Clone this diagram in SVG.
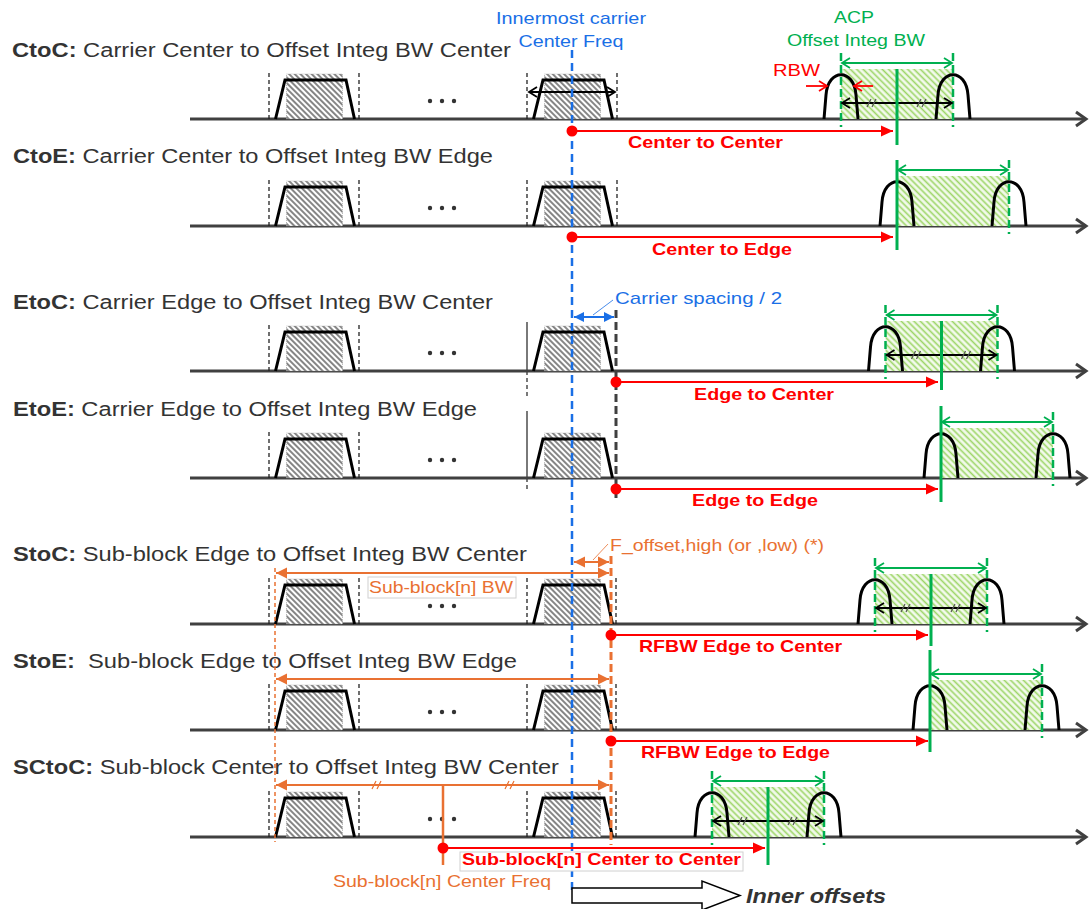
<svg xmlns="http://www.w3.org/2000/svg" width="1092" height="909" viewBox="0 0 1092 909">
<style>
text{font-family:"Liberation Sans",Arial,sans-serif}
.rl{font-size:20px;fill:#333}
.b{font-weight:bold}
.ax{stroke:#404040;stroke-width:3;fill:none;marker-end:url(#mAx)}
.cb{stroke:#222;stroke-width:1.3;stroke-dasharray:4 3}
.dots{fill:#333}
.gd{stroke:#00b050;stroke-width:2.5;stroke-dasharray:8 4}
.gs{stroke:#00b050;stroke-width:3}
.ga{stroke:#00b050;stroke-width:1.8;marker-start:url(#mG);marker-end:url(#mG)}
.ka{stroke:#000;stroke-width:1.8;marker-start:url(#mK);marker-end:url(#mK)}
.ra{stroke:#f00;stroke-width:2;marker-end:url(#mR)}
.rs{stroke:#f00;stroke-width:1.8;marker-end:url(#mRo)}
.rdot{fill:#f00}
.rt{font-size:17px;font-weight:bold;fill:#f00}
.oa{stroke:#e97132;stroke-width:2;marker-start:url(#mO);marker-end:url(#mO)}
.ot{font-size:17px;fill:#e97132}
.bt{font-size:17px;fill:#1a6fe6}
.gt{font-size:17px;fill:#00b050}
.sl{fill:none;stroke-width:1.2}
</style>
<defs>
<pattern id="hb" patternUnits="userSpaceOnUse" width="4" height="4" patternTransform="rotate(45)">
<rect width="4" height="4" fill="#fff"/>
<line x1="0" y1="2" x2="4" y2="2" stroke="#000" stroke-width="0.95"/>
</pattern>
<pattern id="hg" patternUnits="userSpaceOnUse" width="4.5" height="4.5" patternTransform="rotate(45)">
<rect width="4.5" height="4.5" fill="#f3faec"/>
<line x1="0" y1="2.25" x2="4.5" y2="2.25" stroke="#9cd566" stroke-width="1.6"/>
</pattern>
<marker id="mAx" markerUnits="userSpaceOnUse" viewBox="-13 -9 16 18" markerWidth="16" markerHeight="18" refX="0" refY="0" orient="auto">
<path d="M-10,-7 L0,0 L-10,7" fill="none" stroke="#404040" stroke-width="3"/>
</marker>
<marker id="mG" markerUnits="userSpaceOnUse" viewBox="-11 -7 13 14" markerWidth="13" markerHeight="14" refX="0" refY="0" orient="auto-start-reverse">
<path d="M-8,-5 L0,0 L-8,5" fill="none" stroke="#00b050" stroke-width="1.8"/>
</marker>
<marker id="mK" markerUnits="userSpaceOnUse" viewBox="-11 -7 13 14" markerWidth="13" markerHeight="14" refX="0" refY="0" orient="auto-start-reverse">
<path d="M-8,-5 L0,0 L-8,5" fill="none" stroke="#000" stroke-width="1.8"/>
</marker>
<marker id="mRo" markerUnits="userSpaceOnUse" viewBox="-11 -7 13 14" markerWidth="13" markerHeight="14" refX="0" refY="0" orient="auto">
<path d="M-8,-5 L0,0 L-8,5" fill="none" stroke="#f00" stroke-width="1.8"/>
</marker>
<marker id="mR" markerUnits="userSpaceOnUse" viewBox="-14 -7 15 14" markerWidth="15" markerHeight="14" refX="0" refY="0" orient="auto">
<path d="M-12,-5.5 L0,0 L-12,5.5 z" fill="#f00"/>
</marker>
<marker id="mO" markerUnits="userSpaceOnUse" viewBox="-14 -7 15 14" markerWidth="15" markerHeight="14" refX="0" refY="0" orient="auto-start-reverse">
<path d="M-11,-5.5 L0,0 L-11,5.5 z" fill="#e97132"/>
</marker>
<marker id="mB" markerUnits="userSpaceOnUse" viewBox="-14 -7 15 14" markerWidth="15" markerHeight="14" refX="0" refY="0" orient="auto-start-reverse">
<path d="M-10,-5 L0,0 L-10,5 z" fill="#1a6fe6"/>
</marker>
<g id="car">
<rect x="17.5" y="-45" width="56" height="45" fill="url(#hb)" stroke="#999" stroke-width="0.6" stroke-dasharray="1 1"/>
<polyline points="6.5,0 16,-39 77,-39 85.5,0" fill="none" stroke="#000" stroke-width="3"/>
</g>
<line id="cbl" x1="0" y1="-46" x2="0" y2="0" class="cb"/>
<g id="dots" class="dots"><circle cx="430" cy="0" r="2.2"/><circle cx="442" cy="0" r="2.2"/><circle cx="454" cy="0" r="2.2"/></g>
<path id="arch" d="M-17,0 L-15,-24 C-13,-51 13,-51 15,-24 L17,0" fill="none" stroke="#000" stroke-width="3"/>
<path id="sl" d="M-5,4 L-1,-4 M0,4 L4,-4"/>
<g id="gcen">
<rect x="-56" y="-50" width="112" height="50" fill="url(#hg)"/>
<use href="#arch" x="-56"/>
<use href="#arch" x="56"/>
<line x1="-56" y1="-66" x2="-56" y2="8" class="gd"/>
<line x1="56" y1="-66" x2="56" y2="8" class="gd"/>
<line x1="-55" y1="-56" x2="55" y2="-56" class="ga"/>
<line x1="-55" y1="-16" x2="55" y2="-16" class="ka"/>
<use href="#sl" x="-25" y="-16" class="sl" stroke="#555"/>
<use href="#sl" x="25" y="-16" class="sl" stroke="#555"/>
</g>
<g id="gedge">
<rect x="0" y="-50" width="112" height="50" fill="url(#hg)"/>
<use href="#arch" x="0"/>
<use href="#arch" x="112"/>
<line x1="112" y1="-66" x2="112" y2="8" class="gd"/>
<line x1="1" y1="-56" x2="111" y2="-56" class="ga"/>
</g>
</defs>
<rect width="1092" height="909" fill="#fff"/>

<!-- Row 1: CtoC -->
<g id="row-ctoc">
<text class="rl" x="12" y="57" textLength="499" lengthAdjust="spacingAndGlyphs"><tspan class="b">CtoC:</tspan> Carrier Center to Offset Integ BW Center</text>
<path class="ax" d="M190,119 H1086"/>
<use href="#car" x="269" y="119"/><use href="#car" x="527" y="119"/>
<use href="#cbl" x="269" y="119"/><use href="#cbl" x="359" y="119"/><use href="#cbl" x="527" y="119"/><use href="#cbl" x="617" y="119"/>
<use href="#dots" y="101"/>
<line class="ka" x1="529" y1="92" x2="615" y2="92"/>
<use href="#gcen" x="897" y="119"/>
<line class="gs" x1="897" y1="69" x2="897" y2="145"/>
<text class="gt" x="834" y="23" textLength="40" lengthAdjust="spacingAndGlyphs">ACP</text>
<text class="gt" x="787" y="46" textLength="138" lengthAdjust="spacingAndGlyphs">Offset Integ BW</text>
<text x="773" y="76" font-size="17" fill="#f00" textLength="47" lengthAdjust="spacingAndGlyphs">RBW</text>
<line class="rs" x1="806" y1="86" x2="827" y2="86"/>
<line class="rs" x1="873" y1="86" x2="854" y2="86"/>
</g>

<!-- Row 2: CtoE -->
<g id="row-ctoe">
<text class="rl" x="13" y="163" textLength="480" lengthAdjust="spacingAndGlyphs"><tspan class="b">CtoE:</tspan> Carrier Center to Offset Integ BW Edge</text>
<path class="ax" d="M190,226 H1086"/>
<use href="#car" x="269" y="226"/><use href="#car" x="527" y="226"/>
<use href="#cbl" x="269" y="226"/><use href="#cbl" x="359" y="226"/><use href="#cbl" x="527" y="226"/><use href="#cbl" x="617" y="226"/>
<use href="#dots" y="208"/>
<use href="#gedge" x="897" y="226"/>
<line class="gs" x1="897" y1="160" x2="897" y2="250"/>
</g>

<!-- Row 3: EtoC -->
<g id="row-etoc">
<text class="rl" x="13" y="309" textLength="480" lengthAdjust="spacingAndGlyphs"><tspan class="b">EtoC:</tspan> Carrier Edge to Offset Integ BW Center</text>
<path class="ax" d="M190,371 H1086"/>
<use href="#car" x="269" y="371"/><use href="#car" x="527" y="371"/>
<use href="#cbl" x="269" y="371"/><use href="#cbl" x="359" y="371"/>
<line x1="527" y1="322" x2="527" y2="371" stroke="#404040" stroke-width="1.4"/>
<line x1="527" y1="371" x2="527" y2="396" stroke="#404040" stroke-width="1.4" stroke-dasharray="4 3"/>
<use href="#dots" y="353"/>
<use href="#gcen" x="941.5" y="371"/>
<line class="gs" x1="941.5" y1="321" x2="941.5" y2="390"/>
<text class="bt" x="615" y="304" textLength="167" lengthAdjust="spacingAndGlyphs">Carrier spacing / 2</text>
<line x1="593" y1="315" x2="613" y2="300" stroke="#1a6fe6" stroke-width="0.8"/>
</g>

<!-- Row 4: EtoE -->
<g id="row-etoe">
<text class="rl" x="13" y="416" textLength="464" lengthAdjust="spacingAndGlyphs"><tspan class="b">EtoE:</tspan> Carrier Edge to Offset Integ BW Edge</text>
<path class="ax" d="M190,478 H1086"/>
<use href="#car" x="269" y="478"/><use href="#car" x="527" y="478"/>
<use href="#cbl" x="269" y="478"/><use href="#cbl" x="359" y="478"/>
<line x1="527" y1="411" x2="527" y2="478" stroke="#404040" stroke-width="1.4"/>
<line x1="527" y1="478" x2="527" y2="492" stroke="#404040" stroke-width="1.4" stroke-dasharray="4 3"/>
<use href="#dots" y="460"/>
<use href="#gedge" x="941" y="478"/>
<line class="gs" x1="941" y1="406" x2="941" y2="502"/>
</g>
<line id="edge-marker" x1="616" y1="310" x2="616" y2="498" stroke="#404040" stroke-width="3" stroke-dasharray="8 4"/>

<!-- Row 5: StoC -->
<g id="row-stoc">
<text class="rl" x="13" y="561" textLength="514" lengthAdjust="spacingAndGlyphs"><tspan class="b">StoC:</tspan> Sub-block Edge to Offset Integ BW Center</text>
<path class="ax" d="M190,624 H1086"/>
<use href="#car" x="269" y="624"/><use href="#car" x="527" y="624"/>
<use href="#cbl" x="269" y="624"/><use href="#cbl" x="359" y="624"/><use href="#cbl" x="527" y="624"/><use href="#cbl" x="616" y="624"/>
<use href="#dots" y="606"/>
<use href="#gcen" x="931" y="624"/>
<line class="gs" x1="931" y1="574" x2="931" y2="646"/>
</g>

<!-- Row 6: StoE -->
<g id="row-stoe">
<text class="rl" x="13" y="668" textLength="504" lengthAdjust="spacingAndGlyphs" xml:space="preserve"><tspan class="b">StoE:</tspan>  Sub-block Edge to Offset Integ BW Edge</text>
<path class="ax" d="M190,730 H1086"/>
<use href="#car" x="269" y="730"/><use href="#car" x="527" y="730"/>
<use href="#cbl" x="269" y="730"/><use href="#cbl" x="359" y="730"/><use href="#cbl" x="527" y="730"/><use href="#cbl" x="616" y="730"/>
<use href="#dots" y="712"/>
<use href="#gedge" x="930" y="730"/>
<line class="gs" x1="930" y1="650" x2="930" y2="752"/>
</g>

<!-- Row 7: SCtoC -->
<g id="row-sctoc">
<text class="rl" x="13" y="774" textLength="546" lengthAdjust="spacingAndGlyphs"><tspan class="b">SCtoC:</tspan> Sub-block Center to Offset Integ BW Center</text>
<path class="ax" d="M190,837 H1086"/>
<use href="#car" x="269" y="837"/><use href="#car" x="527" y="837"/>
<use href="#cbl" x="269" y="837"/><use href="#cbl" x="359" y="837"/><use href="#cbl" x="527" y="837"/><use href="#cbl" x="616" y="837"/>
<use href="#dots" y="819"/>
<use href="#gcen" x="768" y="837"/>
<line class="gs" x1="768" y1="787" x2="768" y2="865"/>
</g>

<!-- Sub-block markers -->
<g id="subblock">
<line x1="275" y1="568" x2="275" y2="842" stroke="#e97132" stroke-width="1.5" stroke-dasharray="4 3"/>
<line x1="611" y1="556" x2="611" y2="845" stroke="#e97132" stroke-width="3" stroke-dasharray="8 4"/>
<line x1="443" y1="785" x2="443" y2="865" stroke="#e97132" stroke-width="2.5"/>
<rect x="368" y="577" width="148" height="21" fill="#fff" stroke="#d0d0d0" stroke-width="1"/>
<text class="ot" x="369" y="593" textLength="144" lengthAdjust="spacingAndGlyphs">Sub-block[n] BW</text>
<text class="ot" x="610" y="551" textLength="214" lengthAdjust="spacingAndGlyphs">F_offset,high (or ,low) (*)</text>
<line x1="593" y1="560" x2="608" y2="544" stroke="#e97132" stroke-width="0.8"/>
<text class="ot" x="333" y="887" textLength="218" lengthAdjust="spacingAndGlyphs">Sub-block[n] Center Freq</text>
</g>

<!-- Innermost carrier -->
<g id="innermost">
<text class="bt" x="571" y="24" text-anchor="middle" textLength="150" lengthAdjust="spacingAndGlyphs">Innermost carrier</text>
<text class="bt" x="571" y="47" text-anchor="middle" textLength="105" lengthAdjust="spacingAndGlyphs">Center Freq</text>
<line x1="572" y1="50" x2="572" y2="893" stroke="#1a6fe6" stroke-width="2.5" stroke-dasharray="8 5"/>
</g>

<!-- Connectors -->
<g id="connectors">
<line x1="574" y1="317" x2="614" y2="317" stroke="#1a6fe6" stroke-width="2" marker-start="url(#mB)" marker-end="url(#mB)"/>
<line class="oa" x1="574" y1="562" x2="609" y2="562"/>
<line class="oa" x1="276" y1="573" x2="609" y2="573"/>
<line class="oa" x1="276" y1="679" x2="609" y2="679"/>
<line class="oa" x1="276" y1="785" x2="609" y2="785"/>
<use href="#sl" x="377" y="785" class="sl" stroke="#e97132"/>
<use href="#sl" x="510" y="785" class="sl" stroke="#e97132"/>

<line class="ra" x1="572" y1="131" x2="893" y2="131"/>
<line class="ra" x1="572" y1="237" x2="893" y2="237"/>
<line class="ra" x1="616" y1="382" x2="938" y2="382"/>
<line class="ra" x1="616" y1="489" x2="938" y2="489"/>
<line class="ra" x1="611" y1="635" x2="928" y2="635"/>
<line class="ra" x1="611" y1="741" x2="928" y2="741"/>
<line class="ra" x1="443" y1="848" x2="765" y2="848"/>
<g class="rdot">
<circle cx="572" cy="131" r="5.5"/>
<circle cx="572" cy="237" r="5.5"/>
<circle cx="616" cy="382" r="5.5"/>
<circle cx="616" cy="489" r="5.5"/>
<circle cx="611" cy="635" r="5.5"/>
<circle cx="611" cy="741" r="5.5"/>
<circle cx="443" cy="848" r="5.5"/>
</g>
<text class="rt" x="628" y="148" textLength="155" lengthAdjust="spacingAndGlyphs">Center to Center</text>
<text class="rt" x="652" y="255" textLength="140" lengthAdjust="spacingAndGlyphs">Center to Edge</text>
<text class="rt" x="694" y="400" textLength="140" lengthAdjust="spacingAndGlyphs">Edge to Center</text>
<text class="rt" x="692" y="506" textLength="126" lengthAdjust="spacingAndGlyphs">Edge to Edge</text>
<text class="rt" x="639" y="652" textLength="203" lengthAdjust="spacingAndGlyphs">RFBW Edge to Center</text>
<text class="rt" x="641" y="758" textLength="189" lengthAdjust="spacingAndGlyphs">RFBW Edge to Edge</text>
<rect x="460" y="852" width="283" height="19" fill="#fff" stroke="#d0d0d0" stroke-width="1"/>
<text class="rt" x="462" y="865" textLength="279" lengthAdjust="spacingAndGlyphs">Sub-block[n] Center to Center</text>
</g>

<!-- Inner offsets -->
<g id="inner-offsets">
<polygon points="572,888 702,888 702,881 740,895.5 702,910 702,903 572,903" fill="#fff" stroke="#000" stroke-width="1.5"/>
<text x="746" y="903" font-size="21" font-weight="bold" font-style="italic" fill="#333" textLength="140" lengthAdjust="spacingAndGlyphs">Inner offsets</text>
</g>
</svg>
